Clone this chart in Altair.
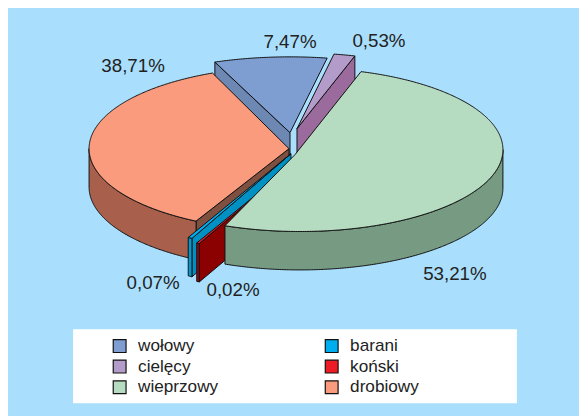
import altair as alt
import numpy as np

# --- values -----------------------------------------------------------------
meats = ["wołowy", "cielęcy", "wieprzowy", "barani", "koński", "drobiowy"]
shares = ["7,47%", "0,53%", "53,21%", "0,07%", "0,02%", "38,71%"]
top_colors = ["#7E9DD1", "#B39CC9", "#B5DCC0", "#00AEEF", "#ED1C24", "#F99B7C"]
cut_colors = ["#6D88B2", "#9A6B9C", "#779A83", "#0091C4", "#8B0000", "#7F5040"]
rim_colors = ["#6D88B2", "#9A6B9C", "#779A83", "#0099D0", "#A00010", "#A8604C"]

# drawn sweep of each slice on the tilted disc, degrees clockwise from 3 o'clock
sweep_start = [248.6, 280.4, -72.5, 118.9, 116.9, 117.7]
sweep_end = [280.4, 286.4, 111.7, 120.1, 117.7, 247.5]
# centre of each slice's ellipse, its radii and its visible tip, as measured on the picture
center_x = [290, 297, 300, 291, 292, 289]
center_y = [132, 128, 149, 153, 165, 148]
radius_x = [206, 205, 203, 205, 205, 200]
radius_y = [76, 76, 82, 97, 87.5, 82]
tip_x = [290, 297, 295, 291, 292, 289]
tip_y = [132, 128, 154, 153, 165, 148]
# which cut faces show
start_cut = [True, False, False, True, True, True]
end_cut = [False, True, False, False, False, False]
paint_order = [0, 1, 5, 3, 4, 2]
depth = 38.5

label_x = [290, 379, 455, 153, 233, 133]
label_y = [41, 40, 274, 283, 290, 65]

W, H = 579, 408
SX, SY = 595 / 587, 1.012


def px(x):
    return x * SX - 8


def py(y):
    return y * SY - 10


def feature(points):
    ring = [[float(px(a)), float(py(b))] for a, b in points]
    ring.append(ring[0])
    return {"type": "Feature", "properties": {}, "geometry": {"type": "Polygon", "coordinates": [ring]}}


def arc(i, a, b):
    t = np.radians(np.linspace(a, b, max(2, int(abs(b - a) * 2) + 2)))
    return list(zip(center_x[i] + radius_x[i] * np.cos(t), center_y[i] + radius_y[i] * np.sin(t)))


projection = dict(type="identity", scale=1, translate=[0, 0])
layers = [
    alt.Chart(alt.Data(values=[{"a": 1}])).mark_rect(color="white").encode(
        x=alt.value(px(73)), x2=alt.value(px(517)), y=alt.value(py(329)), y2=alt.value(py(403))
    )
]
color_scale = alt.Scale(domain=meats, range=top_colors)
color_legend = alt.Legend(
    title=None, orient="none", legendX=px(111), legendY=py(337), columns=2, direction="vertical",
    symbolType="square", symbolSize=169, symbolStrokeColor="#111111", symbolStrokeWidth=1.2,
    symbolOpacity=1, labelFont="Liberation Sans", labelFontSize=17.4, labelColor="#222222",
    labelOffset=10, rowPadding=2, columnPadding=105, padding=0,
)

for i in paint_order:
    a, b = sweep_start[i], sweep_end[i]
    tip = (tip_x[i], tip_y[i])
    faces = []
    for show, ang in ((start_cut[i], a), (end_cut[i], b)):
        if show:
            p = arc(i, ang, ang)[0]
            faces.append((feature([tip, p, (p[0], p[1] + depth), (tip[0], tip[1] + depth)]), cut_colors[i]))
    lo, hi = max(a, 0), min(b, 180)
    if hi > lo:
        front = arc(i, lo, hi)
        faces.append((feature(front + [(x, y + depth) for x, y in reversed(front)]), rim_colors[i]))
    for f, c in faces:
        layers.append(
            alt.Chart(alt.Data(values=[f])).mark_geoshape(fill=c, stroke="#111111", strokeWidth=1, filled=True, strokeJoin="round").project(**projection)
        )
    top = feature([tip] + arc(i, a, b))
    top["properties"] = {"meat": meats[i]}
    layers.append(
        alt.Chart(alt.Data(values=[top])).mark_geoshape(stroke="#111111", strokeWidth=1, strokeJoin="round", opacity=1)
        .encode(color=alt.Color("properties.meat:N", title=None, scale=color_scale, legend=color_legend))
        .project(**projection)
    )

for s, x, y in zip(shares, label_x, label_y):
    layers.append(
        alt.Chart(alt.Data(values=[{"t": s}])).mark_text(
            font="Liberation Sans", fontSize=19, color="#222222", align="center", baseline="middle"
        ).encode(text="t:N", x=alt.value(px(x)), y=alt.value(py(y)))
    )

chart = alt.layer(*layers).properties(
    width=W, height=H, background="#A9DFFD", padding=0,
    autosize=alt.AutoSizeParams(type="none"),
).configure_view(stroke=None)

chart.save("out.html", embed_options={"renderer": "svg", "actions": False})
